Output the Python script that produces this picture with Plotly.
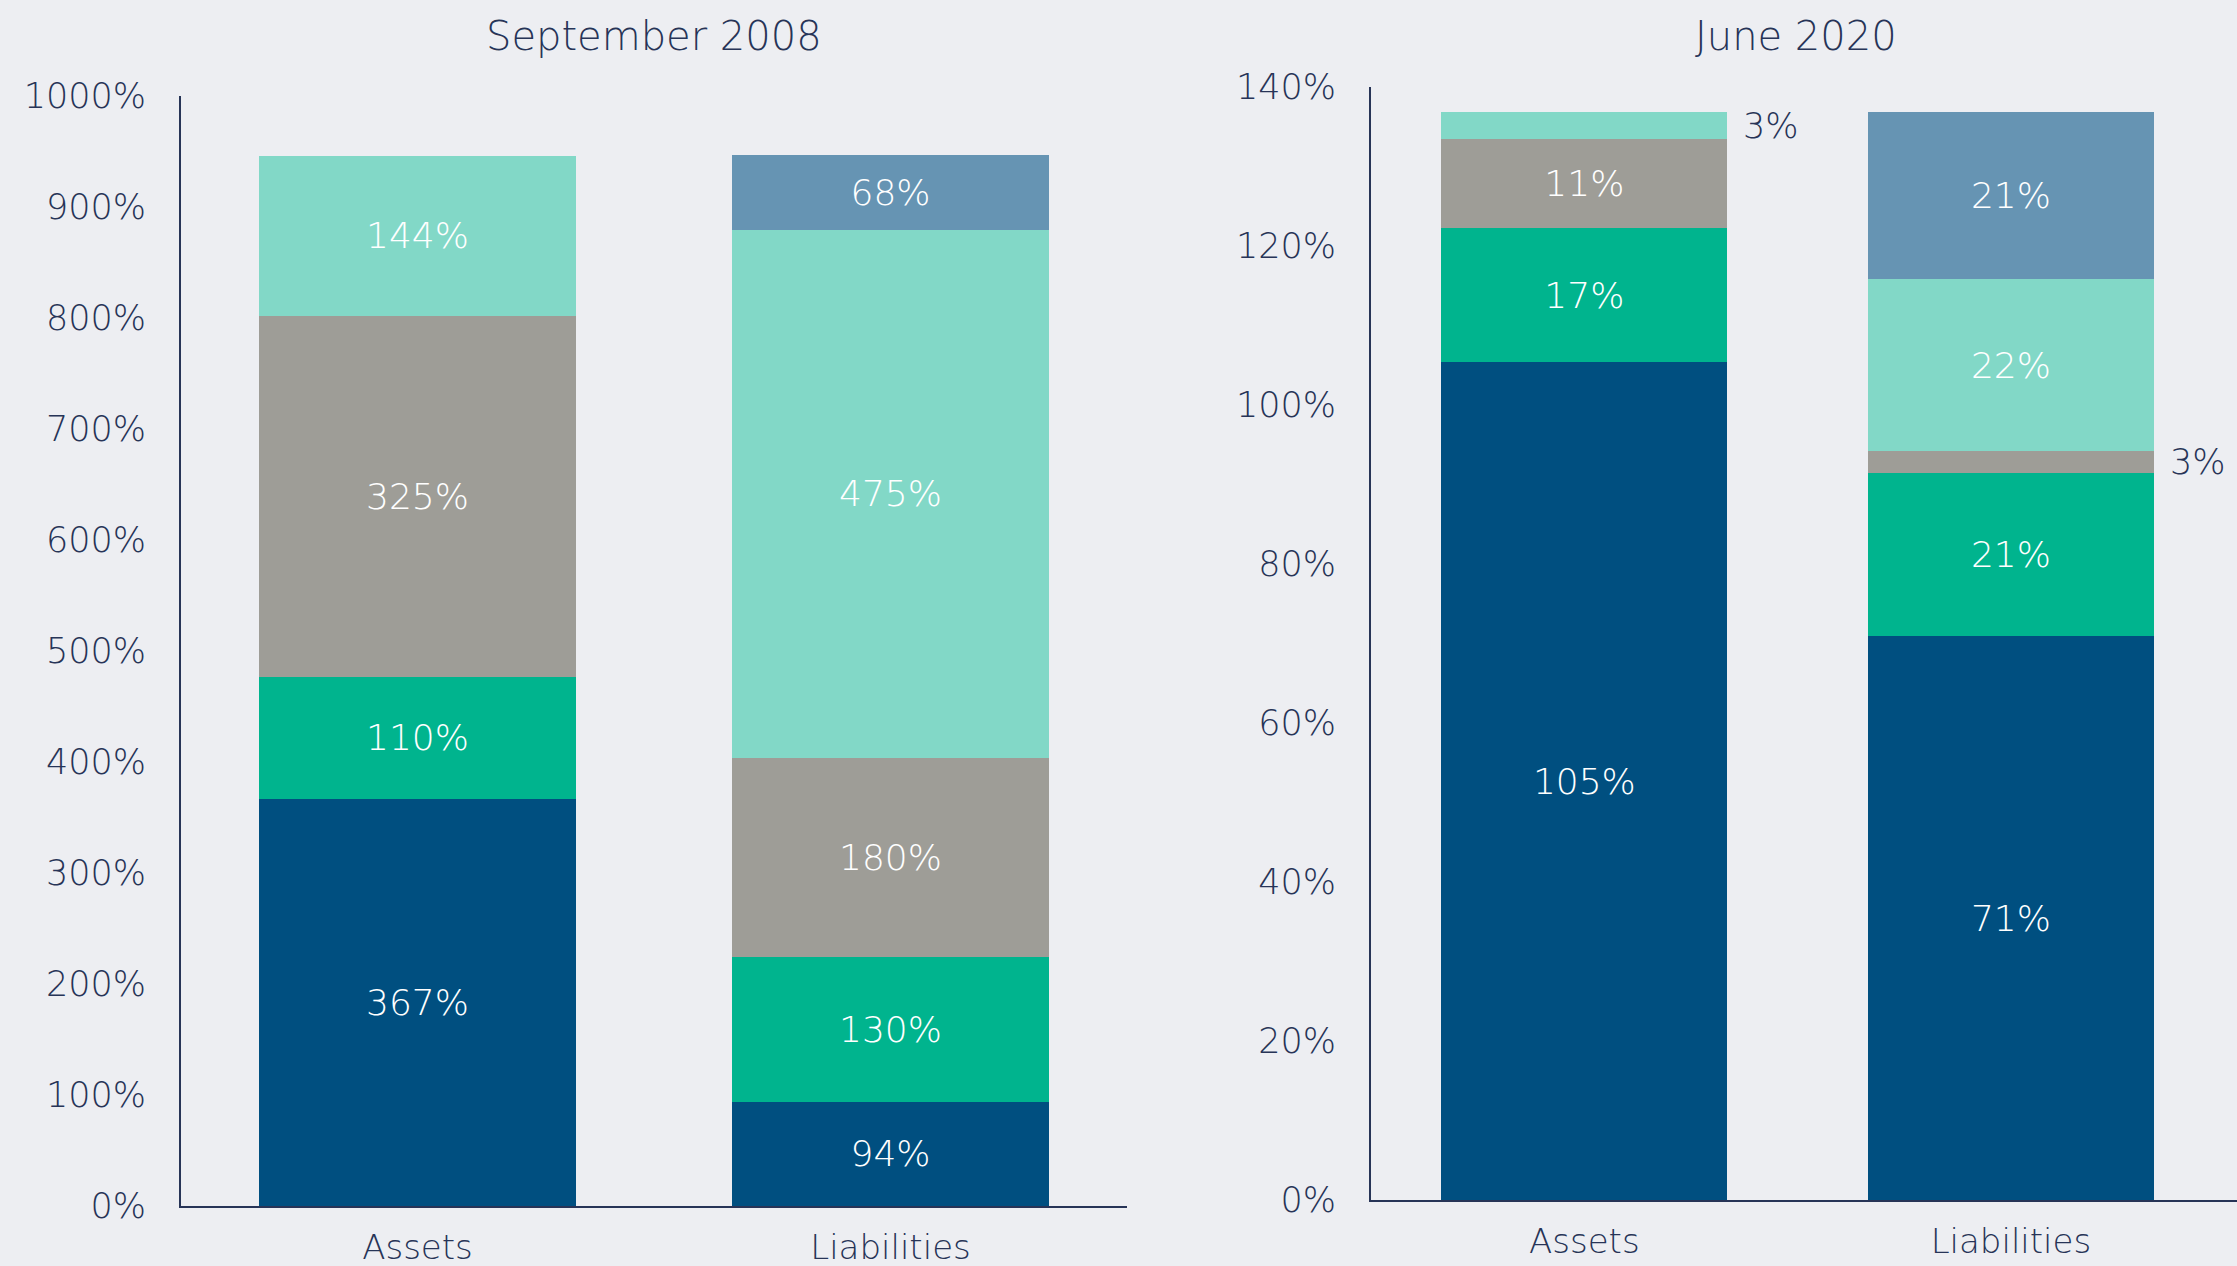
import plotly.graph_objects as go

categories = ["Assets", "Liabilities"]
titles = ["September 2008", "June 2020"]

# September 2008 (% of equity), bottom -> top
sep2008_dark = [367, 94]
sep2008_green = [110, 130]
sep2008_gray = [325, 180]
sep2008_teal = [144, 475]
sep2008_steel = [0, 68]

# June 2020, bottom -> top
jun2020_dark = [105.4, 70.9]
jun2020_green = [16.8, 20.6]
jun2020_gray = [11.2, 2.7]
jun2020_teal = [3.4, 21.6]
jun2020_steel = [0, 21.0]

colors = ["#004F80", "#00B48E", "#9E9D97", "#82D8C7", "#6694B3"]
BG = "#EDEEF2"
INK = "#273457"
FONT = "DejaVu Sans"

panels = [
    dict(series=[sep2008_dark, sep2008_green, sep2008_gray, sep2008_teal, sep2008_steel],
         ymax=1000, dtick=100, xa="x", ya="y"),
    dict(series=[jun2020_dark, jun2020_green, jun2020_gray, jun2020_teal, jun2020_steel],
         ymax=140, dtick=20, xa="x2", ya="y2"),
]

fig = go.Figure()
annotations = []
BARW = 0.67

for p in panels:
    cum = [0.0 for _ in categories]
    for si, vals in enumerate(p["series"]):
        texts = []
        for ci, v in enumerate(vals):
            lab = f"{round(v)}%"
            if v <= 0:
                texts.append("")
            elif v / p["ymax"] < 0.04:
                texts.append("")
                annotations.append(dict(
                    x=ci + BARW / 2, y=cum[ci] + v / 2, xref=p["xa"], yref=p["ya"],
                    text=lab, showarrow=False, xanchor="left", yanchor="middle",
                    xshift=14, font=dict(family=FONT, size=35, color=INK, weight=300)))
            else:
                texts.append(lab)
            cum[ci] += v
        fig.add_trace(go.Bar(
            x=categories, y=vals, xaxis=p["xa"], yaxis=p["ya"],
            marker=dict(color=colors[si], line=dict(width=0)),
            text=texts, textposition="inside", insidetextanchor="middle",
            textangle=0, constraintext="none",
            textfont=dict(family=FONT, size=36, color="white", weight=300),
            showlegend=False, hoverinfo="skip", width=BARW,
        ))

axis_font = dict(family=FONT, size=35, color=INK, weight=300)
xtick_font = dict(family=FONT, size=34, color=INK, weight=300)

common_x = dict(showline=True, linecolor=INK, linewidth=2, showgrid=False, zeroline=False,
                ticks="outside", ticklen=10, tickcolor="rgba(0,0,0,0)",
                tickfont=xtick_font, automargin=False, fixedrange=True)
common_y = dict(ticksuffix="%", showline=True, linecolor=INK, linewidth=2,
                showgrid=False, zeroline=False, ticks="outside", ticklen=26,
                tickcolor="rgba(0,0,0,0)", tickfont=axis_font, automargin=False,
                fixedrange=True)

fig.update_layout(
    width=2237, height=1266,
    paper_bgcolor=BG, plot_bgcolor=BG,
    barmode="stack",
    margin=dict(l=0, r=0, t=0, b=0, pad=0),
    font=dict(family=FONT, color=INK),
    xaxis=dict(domain=[0.0809, 0.5038], range=[-0.5, 1.5], anchor="y", **common_x),
    yaxis=dict(domain=[0.0474, 0.9242], range=[0, panels[0]["ymax"]],
               dtick=panels[0]["dtick"], anchor="x", **common_y),
    xaxis2=dict(domain=[0.6129, 1.0], range=[-0.5, 1.53], anchor="y2", **common_x),
    yaxis2=dict(domain=[0.0521, 0.9313], range=[0, panels[1]["ymax"]],
                dtick=panels[1]["dtick"], anchor="x2", **common_y),
)

title_x = [(0.0809 + 0.5038) / 2, 0.8030]
for t, tx in zip(titles, title_x):
    annotations.append(dict(x=tx, y=1 - 36 / 1266, xref="paper", yref="paper",
                            text=t, showarrow=False, xanchor="center", yanchor="middle",
                            font=dict(family=FONT, size=40, color=INK, weight=300)))

fig.update_layout(annotations=annotations)
fig.write_html("out.html", config={"displayModeBar": False},
               post_script="document.body.style.margin='0px';")
